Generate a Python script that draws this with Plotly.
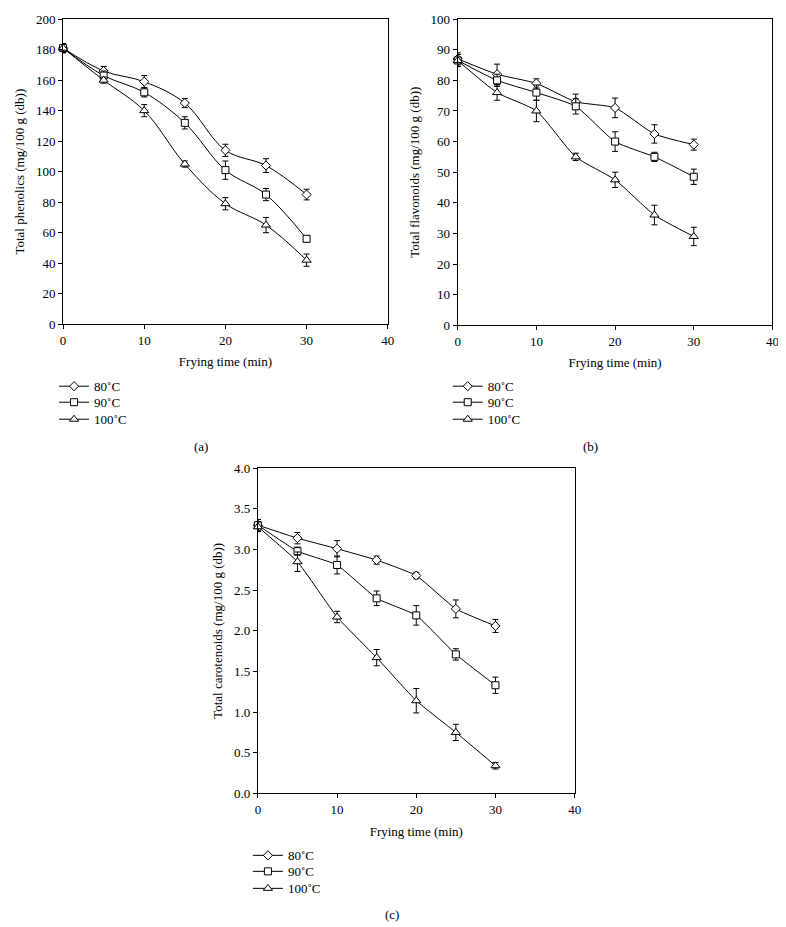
import plotly.graph_objects as go

time_min = [0, 5, 10, 15, 20, 25, 30]
series_names = ["80˚C", "90˚C", "100˚C"]
x_ticks = [0, 10, 20, 30, 40]

phen_80 = [181, 166, 159, 145, 114, 104, 85]
phen_80_err = [3, 3, 4, 3, 4, 4.5, 3.5]
phen_90 = [181, 163, 152, 132, 101, 85, 56]
phen_90_err = [3, 3, 3, 4, 6, 4, 2]
phen_100 = [181, 160, 140, 105, 79, 65, 42]
phen_100_err = [3, 2, 4, 2, 4, 5, 4]

flav_80 = [87, 82, 79, 73, 71, 62.5, 59]
flav_80_err = [2, 3.3, 1.5, 2.5, 3.2, 3, 1.8]
flav_90 = [86.5, 80, 76, 71.5, 60, 55, 48.5]
flav_90_err = [2, 2, 2.5, 2.5, 3.2, 1.5, 2.5]
flav_100 = [86.5, 76, 70, 55, 47.5, 36, 29]
flav_100_err = [2, 2.5, 3.5, 1.2, 2.5, 3.2, 3]

car_80 = [3.30, 3.14, 3.01, 2.87, 2.68, 2.27, 2.06]
car_80_err = [0.07, 0.07, 0.10, 0.05, 0.04, 0.11, 0.08]
car_90 = [3.30, 2.98, 2.81, 2.40, 2.19, 1.71, 1.33]
car_90_err = [0.07, 0.05, 0.11, 0.09, 0.12, 0.07, 0.10]
car_100 = [3.28, 2.85, 2.17, 1.67, 1.14, 0.75, 0.34]
car_100_err = [0.06, 0.12, 0.07, 0.10, 0.15, 0.10, 0.04]

# capture mapping observed: shown = scale * page + offset
SX, OX = 0.988, 2.0
SY, OY = 0.9835, 6.0
MARGIN = 8  # body margin of the html page
W, H = 780, 926
FONT = "Liberation Serif"
FS = 13
symbols = ["diamond", "square", "triangle-up"]
msizes = [7, 7, 8]


def fx(rx):
    return ((rx - OX) / SX - MARGIN) / W


def fy(ry):
    return 1 - ((ry - OY) / SY - MARGIN) / H


panels = [
    dict(data=[(phen_80, phen_80_err), (phen_90, phen_90_err), (phen_100, phen_100_err)],
         smooth=1.0, px=(62, 387), py=(18, 323), yrange=[0, 200], dtick=20, fmt="d",
         ytitle="Total phenolics (mg/100 g (db))",
         legx=53, legy=[385, 401, 418]),
    dict(data=[(flav_80, flav_80_err), (flav_90, flav_90_err), (flav_100, flav_100_err)],
         smooth=0.6, px=(457, 772), py=(18, 324), yrange=[0, 100], dtick=10, fmt="d",
         ytitle="Total flavonoids (mg/100 g (db))",
         legx=447, legy=[385, 401, 418]),
    dict(data=[(car_80, car_80_err), (car_90, car_90_err), (car_100, car_100_err)],
         smooth=0.4, px=(257, 574), py=(467, 792), yrange=[0, 4.0], dtick=0.5, fmt=".1f",
         ytitle="Total carotenoids (mg/100 g (db))",
         legx=247, legy=[854, 870, 887]),
]

fig = go.Figure()
layout = dict(width=W, height=H, margin=dict(l=0, r=0, t=0, b=0),
              paper_bgcolor="white", plot_bgcolor="white", showlegend=True,
              font=dict(family=FONT, size=FS, color="black"))

axis_common = dict(showgrid=False, zeroline=False, showline=True, linecolor="black",
                   linewidth=1, mirror=True, ticks="outside", ticklen=4, tickcolor="black",
                   tickfont=dict(family=FONT, size=FS, color="black"))

leg_n = 0
for k, p in enumerate(panels):
    sx = "" if k == 0 else str(k + 1)
    for i, (vals, errs) in enumerate(p["data"]):
        leg_n += 1
        lname = "legend" if leg_n == 1 else "legend%d" % leg_n
        fig.add_trace(go.Scatter(
            x=time_min, y=vals, name=series_names[i],
            mode="lines+markers",
            line=dict(color="black", width=1, shape="spline", smoothing=p["smooth"]),
            marker=dict(symbol=symbols[i], size=msizes[i], color="white",
                        line=dict(width=1, color="black")),
            error_y=dict(type="data", array=errs, color="black", thickness=1, width=3),
            xaxis="x" + sx, yaxis="y" + sx, legend=lname,
            cliponaxis=False,
        ))
        layout[lname] = dict(bgcolor="rgba(0,0,0,0)", borderwidth=0, itemwidth=30,
                             font=dict(family=FONT, size=FS, color="black"),
                             xanchor="left", yanchor="middle",
                             x=fx(p["legx"]), y=fy(p["legy"][i]))
    layout["xaxis" + sx] = dict(axis_common, domain=[fx(p["px"][0]), fx(p["px"][1])],
                                range=[0, 40], tickvals=x_ticks, anchor="y" + sx,
                                title=dict(text="Frying time (min)", standoff=10,
                                           font=dict(family=FONT, size=FS)))
    layout["yaxis" + sx] = dict(axis_common, domain=[fy(p["py"][1]), fy(p["py"][0])],
                                range=p["yrange"], dtick=p["dtick"], tickformat=p["fmt"],
                                anchor="x" + sx,
                                title=dict(text=p["ytitle"], standoff=8,
                                           font=dict(family=FONT, size=FS)))

caps = [("(a)", 200, 445), ("(b)", 590, 445), ("(c)", 391, 913)]
layout["annotations"] = [dict(text=t, x=fx(cx), y=fy(cy), xref="paper", yref="paper",
                              xanchor="center", yanchor="middle", showarrow=False,
                              font=dict(family=FONT, size=FS, color="black"))
                         for t, cx, cy in caps]

fig.update_layout(**layout)
fig.write_html("out.html")
